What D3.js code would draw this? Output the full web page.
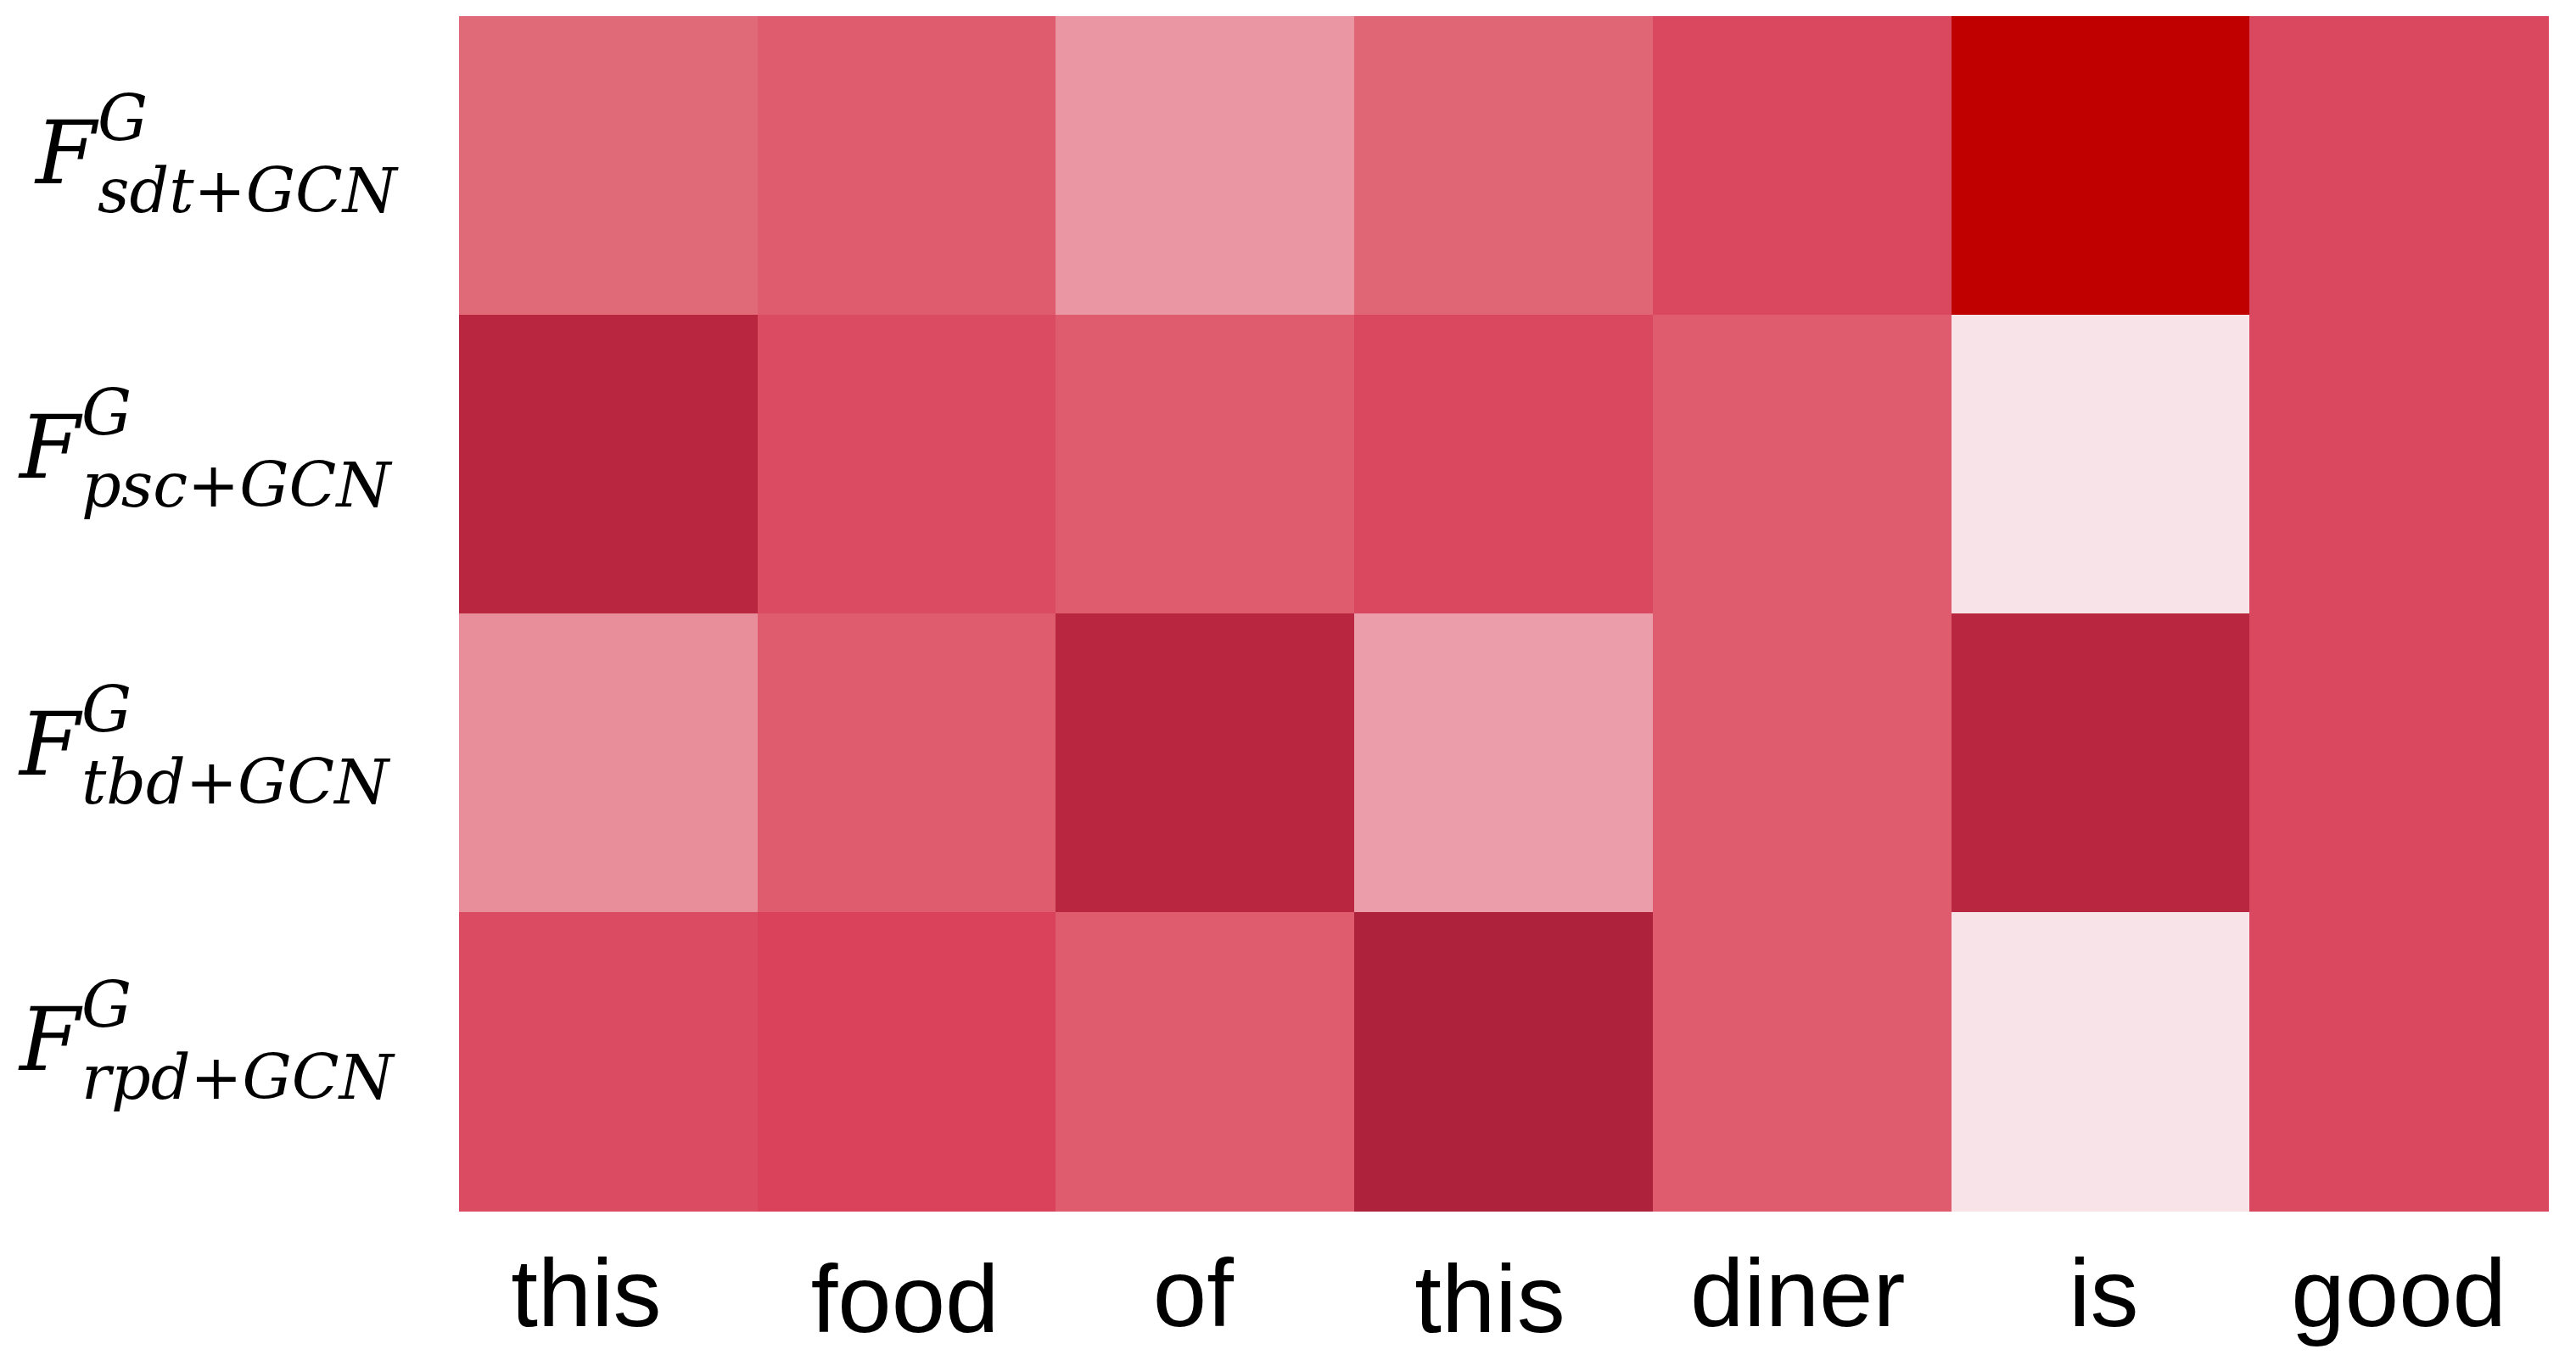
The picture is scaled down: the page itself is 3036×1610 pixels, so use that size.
<!DOCTYPE html>
<html><head><meta charset="utf-8">
<script src="https://cdn.jsdelivr.net/npm/d3@7"></script>
<style>html,body{margin:0;padding:0;background:#fff;}</style>
</head><body>
<svg id="chart"></svg>
<script>
// ---- data ----
const words = ["this", "food", "of", "this", "diner", "is", "good"];
const rowSubs = ["sdt", "psc", "tbd", "rpd"];
const sdtValues = [0.38, 0.45, 0.24, 0.40, 0.54, 1.00, 0.54];
const pscValues = [0.80, 0.525, 0.45, 0.54, 0.45, 0.03, 0.54];
const tbdValues = [0.27, 0.45, 0.80, 0.22, 0.45, 0.80, 0.54];
const rpdValues = [0.525, 0.57, 0.45, 0.86, 0.45, 0.03, 0.54];
const matrix = [sdtValues, pscValues, tbdValues, rpdValues];

// ---- colour ramp ----
const colorDomain = [0.03, 0.24, 0.38, 0.45, 0.54, 0.57, 0.80, 0.86, 1.00];
const colorRange = ["#F8E4E8", "#EA97A3", "#E16A79", "#DE5C6E", "#DA4860", "#DA425C", "#B8263F", "#AE233B", "#C00000"];

// ---- layout ----
const W = 3036, H = 1610;
const plot = {left: 541, right: 3003, top: 19, bottom: 1427};
const xLabelShift = [-26, -2, -14, -16, -5, 4, 0];
const xLabelDrop = [0, 7, 0, 7, 0, 0, 0];
const yLabelLeft = [44, 25, 25, 25];
const yLabelBase = [21, 16, 14, 10];
const yLabelSubEnd = [475, 459, 465, 475];

const svg = d3.select("#chart").attr("width", W).attr("height", H)
  .style("display", "block").style("background", "#fff");

const x = d3.scaleBand().domain(d3.range(words.length)).range([plot.left, plot.right]);
const y = d3.scaleBand().domain(d3.range(rowSubs.length)).range([plot.top, plot.bottom]);
const color = d3.scaleLinear().domain(colorDomain).range(colorRange)
  .interpolate(d3.interpolateRgb).clamp(true);

const cells = matrix.flatMap((row, i) => row.map((v, j) => ({i, j, v})));
svg.append("g").selectAll("rect").data(cells).join("rect")
  .attr("x", d => x(d.j))
  .attr("y", d => y(d.i))
  .attr("width", x.bandwidth() + 0.6)
  .attr("height", y.bandwidth() + 0.6)
  .attr("fill", d => color(d.v))
  .attr("shape-rendering", "crispEdges");

// x labels
svg.append("g").selectAll("text").data(words).join("text")
  .attr("x", (d, j) => x(j) + x.bandwidth() / 2 + xLabelShift[j])
  .attr("y", (d, j) => 1563 + xLabelDrop[j])
  .attr("text-anchor", "middle")
  .attr("font-family", "'Liberation Sans', Arial, sans-serif")
  .attr("font-size", 114)
  .attr("fill", "#000")
  .text(d => d);

// y labels  F^G_{xxx+GCN}
const serif = "'DejaVu Serif', serif";
svg.append("g").selectAll("text").data(rowSubs).join("text")
  .attr("font-family", serif)
  .attr("font-style", "italic")
  .attr("fill", "#000")
  .each(function(sub, i) {
    const t = d3.select(this);
    const base = y(i) + y.bandwidth() / 2 + yLabelBase[i];
    const x0 = yLabelLeft[i];
    t.append("tspan").attr("x", x0 - 2).attr("y", base).attr("font-size", 103).text("F");
    t.append("tspan").attr("x", x0 + 71).attr("y", base - 51).attr("font-size", 74).text("G");
    const s = t.append("tspan").attr("x", x0 + 71).attr("y", base + 34).attr("font-size", 73);
    s.append("tspan").text(sub);
    s.append("tspan").attr("font-style", "normal").text("+");
    s.append("tspan").text("GCN");
  });
</script>
</body></html>
